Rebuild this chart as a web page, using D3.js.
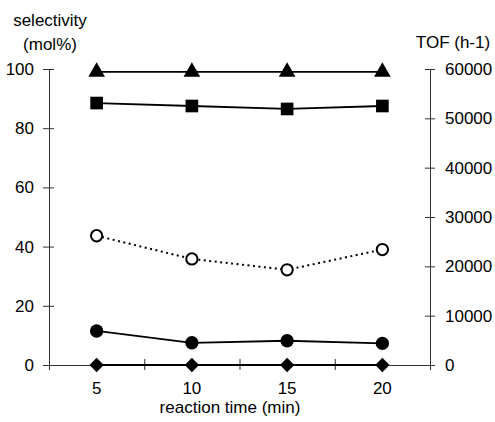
<!DOCTYPE html>
<html>
<head>
<meta charset="utf-8">
<style>
  body { margin: 0; background: #fff; }
  svg { display: block; font-family: Arial, "Liberation Sans", sans-serif; }
  .axis text { font-size: 17px; fill: #000; }
  .axis line, .axis path { stroke: #333; }
  .title { font-size: 17px; fill: #000; }
</style>
</head>
<body>
<svg width="495" height="422"></svg>
<script src="https://d3js.org/d3.v7.min.js"></script>
<script>
// reaction time (min)
let times = [5, 10, 15, 20]

// selectivity (mol%), left axis
let triangles = [99, 99, 99, 99]
let squares = [88.5, 87.5, 86.5, 87.5]
let dots = [11.5, 7.5, 8.2, 7.3]
let diamonds = [0, 0, 0, 0]

// TOF (h-1), right axis
let tof = [26200, 21500, 19300, 23400]

let leftTicks = [0, 20, 40, 60, 80, 100]
let rightTicks = [0, 10000, 20000, 30000, 40000, 50000, 60000]
let xTicks = [2.5, 7.5, 12.5, 17.5, 22.5]

let svg = d3.select("svg")

let margin = { top: 69, right: 65, bottom: 57, left: 49 }
let width = 495, height = 422

let x = d3.scaleLinear()
    .domain([2.5, 22.5])
    .range([margin.left, width - margin.right])

let y = d3.scaleLinear()
    .domain([0, 100])
    .range([height - margin.bottom, margin.top])

let y2 = d3.scaleLinear()
    .domain([0, 60000])
    .range([height - margin.bottom, margin.top])

// axes, ticks cross the line
let yAxis = svg.append("g")
    .attr("class", "axis")
    .attr("transform", `translate(${margin.left},0)`)
    .call(d3.axisLeft(y).tickValues(leftTicks).tickSize(5).tickPadding(10).tickSizeOuter(0))
yAxis.selectAll(".tick line").attr("x2", 5).attr("x1", -6)

let y2Axis = svg.append("g")
    .attr("class", "axis")
    .attr("transform", `translate(${width - margin.right},0)`)
    .call(d3.axisRight(y2).tickValues(rightTicks).tickFormat(d3.format("d"))
        .tickSize(5).tickPadding(10).tickSizeOuter(0))
y2Axis.selectAll(".tick line").attr("x1", -5).attr("x2", 5)

let xAxis = svg.append("g")
    .attr("class", "axis")
    .attr("transform", `translate(0,${height - margin.bottom})`)
    .call(d3.axisBottom(x).tickValues(xTicks).tickSize(5).tickFormat("").tickSizeOuter(0))
xAxis.selectAll(".tick line").attr("y1", -6).attr("y2", 5)

// x labels sit between ticks
svg.append("g")
    .attr("class", "axis")
    .selectAll("text")
    .data(times)
    .join("text")
    .attr("x", d => x(d))
    .attr("y", height - margin.bottom + 29)
    .attr("text-anchor", "middle")
    .text(d => d)

svg.append("text").attr("class", "title")
    .attr("x", 230).attr("y", 413)
    .attr("text-anchor", "middle")
    .text("reaction time (min)")

svg.append("text").attr("class", "title")
    .attr("x", 50).attr("y", 26)
    .attr("text-anchor", "middle")
    .text("selectivity")
svg.append("text").attr("class", "title")
    .attr("x", 50).attr("y", 50)
    .attr("text-anchor", "middle")
    .text("(mol%)")

svg.append("text").attr("class", "title")
    .attr("x", 453).attr("y", 48)
    .attr("text-anchor", "middle")
    .text("TOF (h-1)")

function drawSeries(values, scale, symbol, filled, dash) {
    let pts = times.map((t, i) => [x(t), scale(values[i])])
    svg.append("path")
        .attr("d", d3.line()(pts))
        .attr("fill", "none")
        .attr("stroke", "#000")
        .attr("stroke-width", dash ? 2 : 1.8)
        .attr("stroke-dasharray", dash ? "2,3.5" : null)
    svg.append("g")
        .selectAll("path")
        .data(pts)
        .join("path")
        .attr("transform", d => `translate(${d[0]},${d[1]})`)
        .attr("d", d3.symbol().type(symbol.type).size(symbol.size))
        .attr("fill", filled ? "#000" : "#fff")
        .attr("stroke", "#000")
        .attr("stroke-width", filled ? 0 : 2)
}

drawSeries(tof, y2, { type: d3.symbolCircle, size: 100 }, false, true)
drawSeries(diamonds, y, { type: d3.symbolDiamond2, size: 130 }, true, false)
drawSeries(dots, y, { type: d3.symbolCircle, size: 140 }, true, false)
drawSeries(squares, y, { type: d3.symbolSquare, size: 160 }, true, false)
drawSeries(triangles, y, { type: d3.symbolTriangle, size: 120 }, true, false)
</script>
</body>
</html>
